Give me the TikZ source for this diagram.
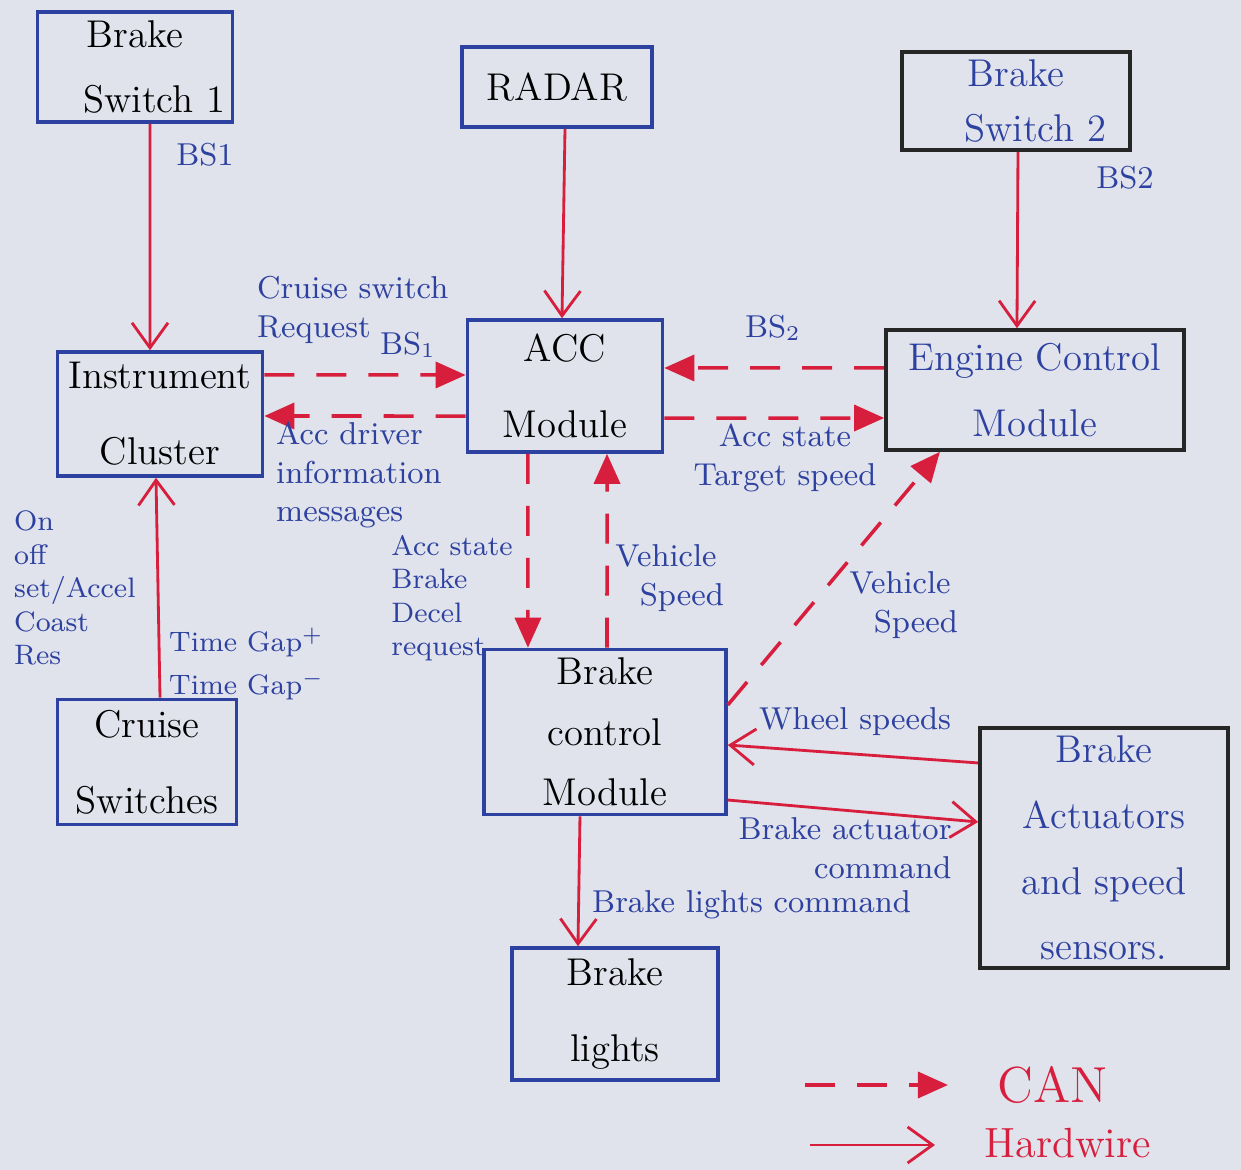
\documentclass[tikz,border=0pt]{standalone}
\usepackage{amsmath}
\usepackage{tikz}
\usetikzlibrary{arrows.meta}

\definecolor{paper}{RGB}{224,226,236}
\definecolor{pen}{RGB}{45,65,160}
\definecolor{ink}{RGB}{215,30,60}

\begin{document}
\begin{tikzpicture}[x=0.01cm,y=-0.01cm,
	blk/.style={draw=pen,line width=1pt,align=center,font=\fontsize{11}{13}\selectfont,inner sep=2pt},
	dark/.style={draw=black!85,text=pen},
	lbl/.style={text=pen,align=left,inner sep=1pt,font=\small},
	can/.style={draw=ink,line width=1pt,dash pattern=on 3mm off 2.2mm,-{Triangle[length=3mm,width=2.6mm]}},
	wire/.style={draw=ink,line width=0.8pt,-{Straight Barb[length=2.5mm,width=3.6mm]}}]
			\useasboundingbox (0,0) rectangle (1241,1170);
			\fill[paper] (0,0) rectangle (1241,1170);

			\node[blk,minimum width=1.82cm,minimum height=1.10cm] (bs1) at (135,67) {Brake\\[2mm]\quad Switch 1};
			\node[blk,minimum width=1.90cm,minimum height=0.80cm] (radar) at (557,87) {RADAR};
			\node[blk,dark,minimum width=2.28cm,minimum height=0.98cm] (bs2) at (1016,101) {Brake\\[1mm]\quad Switch 2};
			\node[blk,minimum width=2.05cm,minimum height=1.24cm] (ic) at (160,414) {Instrument\\[3mm]Cluster};
			\node[blk,minimum width=1.95cm,minimum height=1.32cm] (acc) at (565,386) {ACC\\[3mm]Module};
			\node[blk,dark,minimum width=2.98cm,minimum height=1.20cm] (ecm) at (1035,390) {Engine Control\\[2mm]Module};
			\node[blk,minimum width=2.42cm,minimum height=1.65cm] (bcm) at (605,732) {Brake\\[1.5mm]control\\[1.5mm]Module};
			\node[blk,dark,minimum width=2.48cm,minimum height=2.40cm] (act) at (1104,848) {Brake\\[2mm]Actuators\\[2mm]and speed\\[2mm]sensors.};
			\node[blk,minimum width=1.79cm,minimum height=1.25cm] (cs) at (147,762) {Cruise\\[3mm]Switches};
			\node[blk,minimum width=2.06cm,minimum height=1.32cm] (bl) at (615,1014) {Brake\\[3mm]lights};

			\draw[wire] ([xshift=1.5mm]bs1.south) -- ([xshift=-1mm]ic.north);
			\draw[wire] ([xshift=0.8mm]radar.south) -- ([xshift=-0.3mm]acc.north);
			\draw[wire] ([xshift=0.2mm]bs2.south) -- ([xshift=-1.8mm]ecm.north);
			\draw[can] ([yshift=3.9mm]ic.east) -- ([yshift=1.1mm]acc.west);
			\draw[can] ([yshift=-3.0mm]acc.west) -- ([yshift=-0.2mm]ic.east);
			\draw[can] ([yshift=2.2mm]ecm.west) -- ([yshift=1.8mm]acc.east);
			\draw[can] ([yshift=-3.2mm]acc.east) -- ([yshift=-2.8mm]ecm.west);
			\draw[can] ([xshift=-3.7mm]acc.south) -- ([xshift=-7.7mm]bcm.north);
			\draw[can] ([xshift=0.2mm]bcm.north) -- ([xshift=4.2mm]acc.south);
			\draw[can] ([yshift=2.7mm]bcm.east) -- ([xshift=-9.5mm]ecm.south);
			\draw[wire] ([yshift=8.5mm]act.west) -- ([yshift=-1.3mm]bcm.east);
			\draw[wire] ([yshift=-6.8mm]bcm.east) -- ([yshift=2.6mm]act.west);
			\draw[wire] ([xshift=-2.5mm]bcm.south) -- ([xshift=-3.7mm]bl.north);
			\draw[wire] ([xshift=1.3mm]cs.north) -- ([xshift=-0.4mm]ic.south);

			\node[lbl] (lbs1) at (205,155) {BS1};
			\node[lbl] (lbs2) at (1125,178) {BS2};
			\node[lbl,anchor=west] (lcruise) at (253,310) {Cruise switch\\Request};
			\node[lbl] (lbsa) at (408,345) {BS$_1$};
			\node[lbl,anchor=west] (ldriver) at (272,475) {Acc driver\\information\\messages};
			\node[lbl] (lbsb) at (773,328) {BS$_2$};
			\node[lbl,align=center] (ltarget) at (785,458) {Acc state\\Target speed};
			\node[lbl,anchor=east,font=\footnotesize] (ldecel) at (517,598) {Acc state\\Brake\\Decel\\request};
			\node[lbl,align=center] (lspeedA) at (666,578) {Vehicle\\\quad Speed};
			\node[lbl,align=center] (lspeedB) at (900,605) {Vehicle\\\quad Speed};
			\node[lbl] (lwheel) at (855,722) {Wheel speeds};
			\node[lbl,align=right] (lcmd) at (845,848) {Brake actuator\\command};
			\node[lbl,anchor=west] (llights) at (588,905) {Brake lights command};
			\node[lbl,anchor=west,font=\footnotesize] (lmodes) at (10,588) {On\\off\\set/Accel\\Coast\\Res};
			\node[lbl,anchor=west,font=\footnotesize] (lgap) at (165,664) {Time Gap$^{+}$\\[1mm]Time Gap$^{-}$};

			\coordinate (canA) at (805,1085);
			\coordinate (canB) at (948,1085);
			\node[text=ink,font=\Large,anchor=west] (lcan) at (985,1085) {CAN};
			\draw[can] (canA) -- (canB);
			\coordinate (hwA) at (810,1145);
			\coordinate (hwB) at (935,1145);
			\node[text=ink,font=\large,anchor=west] (lhw) at (972,1143) {Hardwire};
			\draw[wire] (hwA) -- (hwB);
		\end{tikzpicture}
\end{document}
